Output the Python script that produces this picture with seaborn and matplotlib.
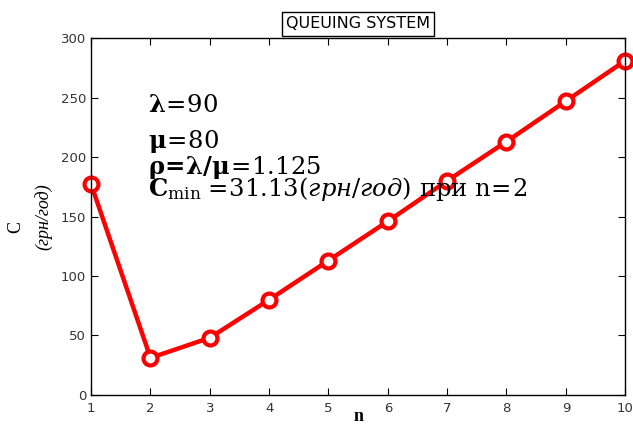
import matplotlib
matplotlib.use("Agg")
import matplotlib.pyplot as plt
import seaborn as sns
import pandas as pd

n_vals = [1, 2, 3, 4, 5, 6, 7, 8, 9, 10]
cost = [177, 31.13, 48, 80, 113, 146, 180, 213, 247, 281]
y_ticks = [0, 50, 100, 150, 200, 250, 300]

sns.set_style("ticks")
plt.rcParams["font.family"] = ["DejaVu Sans"]
plt.rcParams["text.color"] = "black"
plt.rcParams["axes.labelcolor"] = "black"
plt.rcParams["mathtext.fontset"] = "custom"
plt.rcParams["mathtext.rm"] = "DejaVu Serif"
plt.rcParams["mathtext.it"] = "DejaVu Serif:italic"
plt.rcParams["mathtext.bf"] = "DejaVu Serif:bold"

df = pd.DataFrame({"n": n_vals, "C": cost})

fig = plt.figure(figsize=(6.33, 4.33), dpi=100)
ax = fig.add_axes([0.144, 0.088, 0.8436, 0.824])
sns.lineplot(data=df, x="n", y="C", ax=ax, color="#ff0000", linewidth=3.2,
             marker="o", markersize=10, markerfacecolor="white",
             markeredgecolor="#ff0000", markeredgewidth=3, clip_on=False)

ax.set_xlim(1, 10)
ax.set_ylim(0, 300)
ax.set_xticks(n_vals)
ax.set_yticks(y_ticks)
ax.tick_params(direction="in", length=5, labelsize=9.5, colors="black",
               labelcolor="#333333",
               top=True, right=True, labeltop=False, labelright=False)
ax.tick_params(axis="x", pad=5)
for sp in ax.spines.values():
    sp.set_visible(True)
    sp.set_color("black")
    sp.set_linewidth(1)

# подписи осей
ax.set_xlabel("n", fontsize=13, fontweight="bold", family="Liberation Serif",
              labelpad=-5)
ax.set_ylabel("")
ax.text(-0.142, 0.47, "C", rotation=90, fontsize=13, family="Liberation Serif",
        transform=ax.transAxes, ha="center", va="center")
ax.text(-0.09, 0.499, "(грн/год)", rotation=90, fontsize=13, style="italic",
        family="Liberation Serif", transform=ax.transAxes, ha="center", va="center")
ax.set_title("QUEUING SYSTEM", fontsize=11.5, pad=7,
             bbox=dict(facecolor="white", edgecolor="black", linewidth=1, pad=3))

# параметры системы
eq = r"\!=\!"
serif = dict(fontsize=17.5, transform=ax.transAxes, va="baseline", ha="left")
ax.text(0.106, 0.793, r"$\mathbf{λ}" + eq + r"\mathrm{90}$", **serif)
ax.text(0.106, 0.692, r"$\mathbf{μ}" + eq + r"\mathrm{80}$", **serif)
ax.text(0.106, 0.619,
        r"$\mathbf{ρ" + eq + r"λ/μ}" + eq + r"\mathrm{1.125}$", **serif)
ax.text(0.106, 0.557,
        r"$\mathbf{C}_{\mathrm{min}}\;" + eq
        + r"\mathrm{31.13}\mathit{(грн/год)}\ \mathrm{при\ n}" + eq + r"\mathrm{2}$",
        **serif)

fig.savefig("out.png", dpi=100)
